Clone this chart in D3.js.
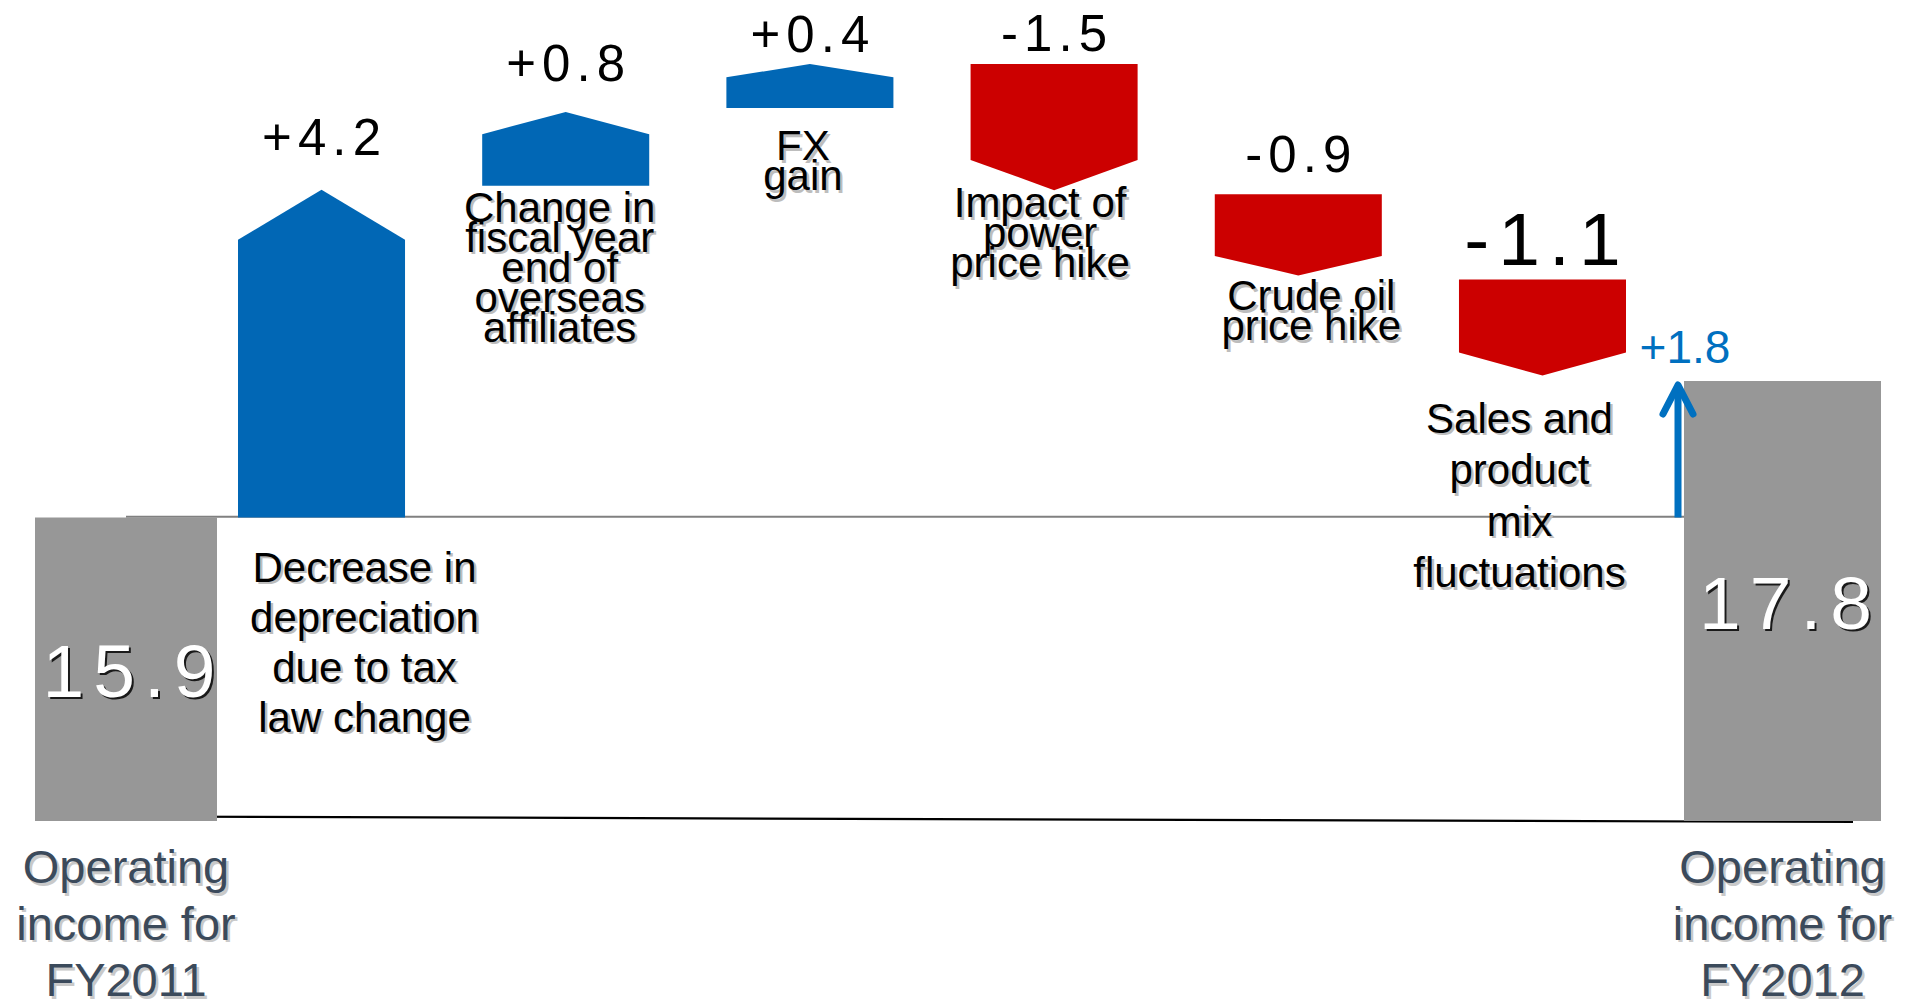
<!DOCTYPE html>
<html>
<head>
<meta charset="utf-8">
<script src="https://cdn.jsdelivr.net/npm/d3@7"></script>
<style>
  html, body { margin: 0; padding: 0; background: #fff; }
  svg { display: block; }
</style>
</head>
<body>
<div id="chart"></div>
<script>
// operating income bridge, FY2011 -> FY2012
var startValue = 15.9;
var endValue = 17.8;
var startName = ["Operating", "income for", "FY2011"];
var endName = ["Operating", "income for", "FY2012"];

var changeNames = [
    ["Decrease in", "depreciation", "due to tax", "law change"],
    ["Change in", "fiscal year", "end of", "overseas", "affiliates"],
    ["FX", "gain"],
    ["Impact of", "power", "price hike"],
    ["Crude oil", "price hike"],
    ["Sales and", "product", "mix", "fluctuations"]
];
var changeValues = [4.2, 0.8, 0.4, -1.5, -0.9, -1.1];
var changeLabels = ["+4.2", "+0.8", "+0.4", "-1.5", "-0.9", "-1.1"];
var netLabel = "+1.8";

// layout tweaks per change (label placement only)
var nameDy = [64, 36, 52, 27, 35, 57];
var nameDx = [43, -6, -7, -14, 13, -23];
var nameLineH = [50, 30, 30, 30, 30, 51.5];
var valueGap = [35, 31, 12, 13, 22, 14];
var valueSize = [51, 51, 51, 51, 51, 75];

var W = 1906, H = 1007;
var blue = "#0167b5", red = "#cc0000", grey = "#979797", netBlue = "#0070c0";
var sansFont = "'Liberation Sans', Arial, sans-serif";

var svg = d3.select("#chart").append("svg")
    .attr("width", W).attr("height", H);

var floorY = 822;
var y = d3.scaleLinear().domain([startValue, endValue]).range([517.5, 381]);
// arrow length: proportional to the change plus room for the head
var len = d3.scaleLinear().domain([0, 1]).range([14, 88.7]);
var x = d3.scaleBand().domain(d3.range(changeValues.length))
    .range([238, 1626]).paddingInner(0.316);
var bw = x.bandwidth();

var totals = [
    {value: startValue, name: startName, x0: 35, x1: 217},
    {value: endValue, name: endName, x0: 1684, x1: 1881}
];

function shadowText(g, lines, cx, y0, lh, size, fill, shadow, off, ls) {
    ls = ls || 0;
    [[shadow, off], [fill, 0]].forEach(function(p) {
        var t = g.append("text")
            .attr("text-anchor", "middle")
            .attr("font-family", sansFont)
            .attr("font-size", size)
            .attr("letter-spacing", ls)
            .attr("fill", p[0]);
        lines.forEach(function(line, i) {
            t.append("tspan")
                .attr("x", cx + p[1] + ls / 2)
                .attr("y", y0 + p[1] + i * lh)
                .text(line);
        });
    });
}

// white panel between the two totals
var panelLeft = 126;
svg.append("line")
    .attr("x1", panelLeft).attr("x2", totals[1].x0)
    .attr("y1", y(startValue) - 0.7).attr("y2", y(startValue) - 0.7)
    .attr("stroke", "#808080").attr("stroke-width", 2);
svg.append("line")
    .attr("x1", panelLeft).attr("x2", totals[1].x1 - 28)
    .attr("y1", floorY - 5.5).attr("y2", floorY)
    .attr("stroke", "#000").attr("stroke-width", 2.2);

// total boxes
totals.forEach(function(t) {
    svg.append("rect")
        .attr("x", t.x0).attr("width", t.x1 - t.x0)
        .attr("y", y(t.value)).attr("height", floorY - 1 - y(t.value))
        .attr("fill", grey);
    var cx = (t.x0 + t.x1) / 2;
    var mid = (y(t.value) + floorY) / 2;
    shadowText(svg, [t.value.toFixed(1)], cx + 3, mid + 27, 0, 75,
        "#fff", "#1a1a1a", 2, 0.12 * 75);
    shadowText(svg, t.name, cx, floorY + 61, 56.5, 47,
        "#3b4a5b", "#c9c9c9", 2.5);
});

// chained arrows, small gap where the direction continues
var gap = 4;
var cursor = y(startValue);
var prevDir = 0;
var arrows = changeValues.map(function(v, i) {
    var dir = v > 0 ? -1 : 1;
    var start = (i === 0 || dir !== prevDir) ? cursor : cursor + dir * gap;
    var end = start + dir * len(Math.abs(v));
    cursor = end;
    prevDir = dir;
    return {i: i, v: v, start: start, end: end, dir: dir};
});

svg.selectAll("path.step").data(arrows).enter().append("path")
    .attr("class", "step")
    .attr("fill", function(d) { return d.v > 0 ? blue : red; })
    .attr("d", function(d) {
        var x0 = x(d.i), x1 = x0 + bw, xc = x0 + bw / 2;
        var l = Math.abs(d.end - d.start);
        var h = (d.v > 0 ? 0.3 : 0.24) * Math.min(bw, l);
        var neck = d.end - d.dir * h;
        return "M" + x0 + "," + d.start + "L" + x1 + "," + d.start +
            "L" + x1 + "," + neck + "L" + xc + "," + d.end +
            "L" + x0 + "," + neck + "Z";
    });

arrows.forEach(function(d) {
    var xc = x(d.i) + bw / 2;
    var top = Math.min(d.start, d.end);
    var low = d.i === 0 ? y(startValue) : Math.max(d.start, d.end);
    var ls = 0.12 * valueSize[d.i];
    svg.append("text")
        .attr("x", xc + ls / 2)
        .attr("y", top - valueGap[d.i])
        .attr("text-anchor", "middle")
        .attr("font-family", sansFont)
        .attr("font-size", valueSize[d.i])
        .attr("letter-spacing", ls)
        .attr("fill", "#000")
        .text(changeLabels[d.i]);
    shadowText(svg, changeNames[d.i], xc + nameDx[d.i], low + nameDy[d.i],
        nameLineH[d.i], 42, "#000", "#bdbdbd", 2.5);
});

// net change arrow next to the FY2012 box
var xn = totals[1].x0 - 6;
var tip = y(endValue) + 1;
svg.append("line")
    .attr("x1", xn).attr("x2", xn)
    .attr("y1", y(startValue)).attr("y2", tip + 4)
    .attr("stroke", netBlue).attr("stroke-width", 7);
svg.append("polyline")
    .attr("points", [[xn - 15, tip + 32], [xn, tip + 3], [xn + 15, tip + 32]].join(" "))
    .attr("fill", "none").attr("stroke", netBlue).attr("stroke-width", 7)
    .attr("stroke-linecap", "round").attr("stroke-linejoin", "round");
svg.append("text")
    .attr("x", xn + 7).attr("y", y(endValue) - 18)
    .attr("text-anchor", "middle")
    .attr("font-family", sansFont)
    .attr("font-size", 46)
    .attr("fill", netBlue)
    .text(netLabel);
</script>
</body>
</html>
